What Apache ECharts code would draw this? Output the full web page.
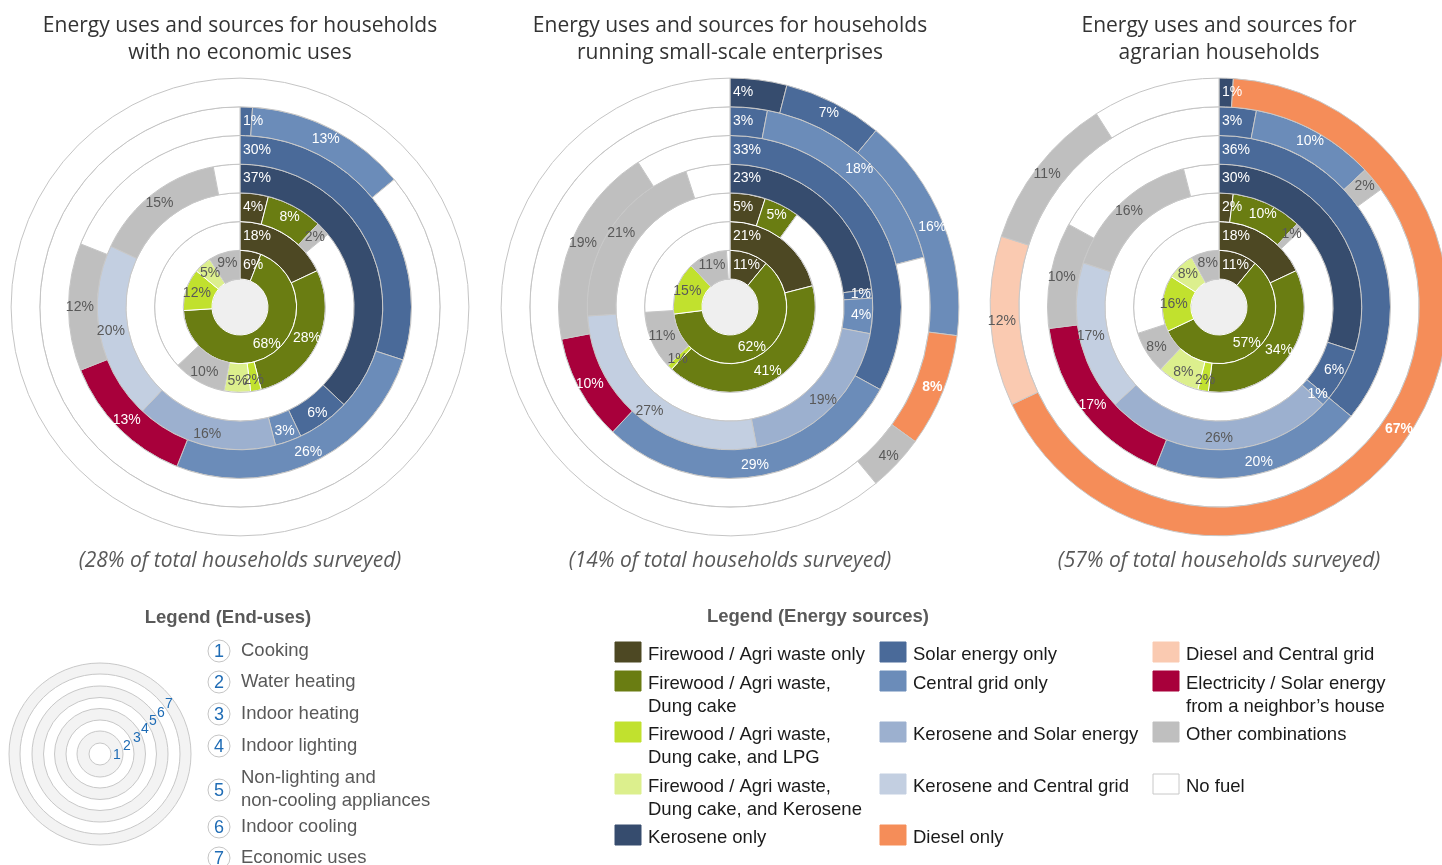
<!DOCTYPE html>
<html>
  <head>
    <meta charset="UTF-8" />
    <title>Energy uses and sources</title>
    <script src="https://cdn.jsdelivr.net/npm/echarts@6/dist/echarts.min.js"></script>
    <style>
      html, body { margin: 0; padding: 0; background: #fff; }
    </style>
  </head>
  <body>
    <div id="main" style="width: 1442px; height: 865px"></div>
  </body>
  <script>
// energy source keys and their legend text
const sourceKeys = ['FW', 'FD', 'FL', 'FK', 'KO', 'SO', 'CG', 'KS', 'KC', 'DO', 'DC', 'EN', 'OT', 'NF'];
const sourceNames = [
  'Firewood / Agri waste only',
  'Firewood / Agri waste,\nDung cake',
  'Firewood / Agri waste,\nDung cake, and LPG',
  'Firewood / Agri waste,\nDung cake, and Kerosene',
  'Kerosene only',
  'Solar energy only',
  'Central grid only',
  'Kerosene and Solar energy',
  'Kerosene and Central grid',
  'Diesel only',
  'Diesel and Central grid',
  'Electricity / Solar energy\nfrom a neighbor\u2019s house',
  'Other combinations',
  'No fuel'
];

const endUses = ['Cooking', 'Water heating', 'Indoor heating', 'Indoor lighting',
  'Non-lighting and\nnon-cooling appliances', 'Indoor cooling', 'Economic uses'];

const chartTitles = [
  'Energy uses and sources for households\nwith no economic uses',
  'Energy uses and sources for households\nrunning small-scale enterprises',
  'Energy uses and sources for\nagrarian households'
];
const chartShares = ['28%', '14%', '57%'];

// rings, innermost (cooking) to outermost (economic uses), clockwise from 12 o'clock
const noEconomic = [
  [['FW', 6], ['FD', 68], ['FL', 12], ['FK', 5], ['OT', 9]],
  [['FW', 18], ['FD', 28], ['FL', 2], ['FK', 5], ['OT', 10], ['NF', 37]],
  [['FW', 4], ['FD', 8], ['OT', 2], ['NF', 86]],
  [['KO', 37], ['SO', 6], ['CG', 3], ['KS', 16], ['KC', 20], ['OT', 15], ['NF', 3]],
  [['SO', 30], ['CG', 26], ['EN', 13], ['OT', 12], ['NF', 19]],
  [['SO', 1], ['CG', 13], ['NF', 86]],
  [['NF', 100]]
];
const smallScale = [
  [['FW', 11], ['FD', 62], ['FL', 15], ['OT', 11], ['NF', 1]],
  [['FW', 21], ['FD', 41], ['FL', 1], ['OT', 11], ['NF', 26]],
  [['FW', 5], ['FD', 5], ['NF', 90]],
  [['KO', 23], ['SO', 1], ['CG', 4], ['KS', 19], ['KC', 27], ['OT', 21], ['NF', 5]],
  [['SO', 33], ['CG', 29], ['EN', 10], ['OT', 19], ['NF', 9]],
  [['SO', 3], ['CG', 18], ['NF', 79]],
  [['KO', 4], ['SO', 7], ['CG', 16], ['DO', 8], ['OT', 4], ['NF', 61]]
];
const agrarian = [
  [['FW', 11], ['FD', 57], ['FL', 16], ['FK', 8], ['OT', 8]],
  [['FW', 18], ['FD', 34], ['FL', 2], ['FK', 8], ['OT', 8], ['NF', 30]],
  [['FW', 2], ['FD', 10], ['OT', 1], ['NF', 87]],
  [['KO', 30], ['SO', 6], ['CG', 1], ['KS', 26], ['KC', 17], ['OT', 16], ['NF', 4]],
  [['SO', 36], ['CG', 20], ['EN', 17], ['OT', 10], ['NF', 17]],
  [['SO', 3], ['CG', 10], ['OT', 2], ['NF', 85]],
  [['KO', 1], ['DO', 67], ['DC', 12], ['OT', 11], ['NF', 9]]
];

// styles
const GREY_TXT = '#595959';
const style = {
  FW: { color: '#4d4823', border: '#ffffff', label: '#fff' },
  FD: { color: '#6a7d12', border: '#ffffff', label: '#fff' },
  FL: { color: '#c1e12e', border: '#ffffff', label: GREY_TXT },
  FK: { color: '#dcef8d', border: '#ffffff', label: GREY_TXT },
  KO: { color: '#364c6e', border: '#c8c8c8', label: '#fff' },
  SO: { color: '#4a6a99', border: '#c8c8c8', label: '#fff' },
  CG: { color: '#6b8cb9', border: '#c8c8c8', label: '#fff' },
  KS: { color: '#9cb0cf', border: '#c8c8c8', label: GREY_TXT },
  KC: { color: '#c3cfe1', border: '#c8c8c8', label: GREY_TXT },
  DO: { color: '#f58d59', border: '#c8c8c8', label: '#fff', bold: true },
  DC: { color: '#facab1', border: '#c8c8c8', label: GREY_TXT },
  EN: { color: '#a8003b', border: '#c8c8c8', label: '#fff' },
  OT: { color: '#bfbfbf', border: '#c8c8c8', label: GREY_TXT },
  NF: { color: '#ffffff', border: '#c4c4c4', label: null }
};

const LABEL_FONT = '"Liberation Sans", Arial, sans-serif';
const R0 = 28, RW = 28.7;
const centers = [[240, 307], [730, 307], [1219, 307]];
const charts = [noEconomic, smallScale, agrarian];

let myChart = echarts.init(document.getElementById('main'));

let series = [];
charts.forEach((rings, ci) => {
  const cx = centers[ci][0], cy = centers[ci][1];
  // grey hub
  series.push({
    type: 'pie', center: [cx, cy], radius: [0, R0], silent: true, animation: false,
    label: { show: false }, labelLine: { show: false },
    itemStyle: { color: '#efefef', borderColor: '#bdbdbd', borderWidth: 1 },
    data: [{ name: 'hub', value: 1 }]
  });
  rings.forEach((ring, ri) => {
    const rIn = R0 + ri * RW, rOut = rIn + RW;
    series.push({
      type: 'pie',
      center: [cx, cy],
      radius: [rIn, rOut],
      startAngle: 90,
      clockwise: true,
      silent: true,
      animation: false,
      avoidLabelOverlap: false,
      label: {
        show: true, position: 'inside',
        formatter: p => p.value + '%',
        fontFamily: LABEL_FONT, fontSize: 14
      },
      labelLine: { show: false },
      // first slice of each ring: label sits just right of the 12 o'clock line
      labelLayout: p => {
        if (p.dataIndex !== 0) return {};
        return { x: cx + 3, y: cy - (rIn + rOut) / 2, align: 'left', verticalAlign: 'middle' };
      },
      data: ring.map(([k, v]) => {
        const s = style[k];
        return {
          name: k, value: v,
          itemStyle: { color: s.color, borderColor: s.border, borderWidth: 1 },
          label: s.label ? { show: true, color: s.label, fontWeight: s.bold ? 'bold' : 'normal' } : { show: false }
        };
      })
    });
  });
});

// titles
let titles = [];
centers.forEach((c, i) => {
  titles.push({
    text: chartTitles[i], left: c[0], top: 13, padding: 0, textAlign: 'center',
    textStyle: { fontFamily: '"Open Sans", sans-serif', fontSize: 21, fontWeight: 'normal', color: '#333', lineHeight: 27 }
  });
  titles.push({
    text: '(' + chartShares[i] + ' of total households surveyed)', left: c[0], top: 551, padding: 0, textAlign: 'center',
    textStyle: { fontFamily: '"Open Sans", sans-serif', fontSize: 21, fontStyle: 'italic', fontWeight: 'normal', color: '#595959' }
  });
});

// legends built with graphic elements
const LEG_FONT = '18.5px "Liberation Sans", Arial, sans-serif';
let graphics = [];
graphics.push({ type: 'text', x: 228, y: 618, style: { text: 'Legend (End-uses)', font: 'bold ' + LEG_FONT, fill: GREY_TXT, align: 'center', verticalAlign: 'middle' } });
graphics.push({ type: 'text', x: 818, y: 617, style: { text: 'Legend (Energy sources)', font: 'bold ' + LEG_FONT, fill: GREY_TXT, align: 'center', verticalAlign: 'middle' } });

// end-use ring diagram
const diagRadii = [91, 80, 68, 56.5, 45.5, 34, 23, 11];
diagRadii.forEach((r, i) => {
  graphics.push({ type: 'circle', shape: { cx: 100, cy: 754, r: r },
    style: { fill: i % 2 === 0 && i < 7 ? '#f3f3f3' : '#ffffff', stroke: '#c8c8c8', lineWidth: 1 } });
});
const diagNums = [[117, 755], [127, 746], [137, 738], [145, 729], [153, 721], [161, 713], [169, 704]];
diagNums.forEach((p, i) => {
  graphics.push({ type: 'text', x: p[0], y: p[1], style: { text: String(i + 1), font: '14px "Liberation Sans", Arial', fill: '#1f6cb5', align: 'center', verticalAlign: 'middle' } });
});

// end-use list
const endUseRows = [651, 682, 714, 746, 790, 827, 858];
endUses.forEach((u, i) => {
  const y = endUseRows[i];
  graphics.push({ type: 'circle', shape: { cx: 219, cy: y, r: 11 }, style: { fill: '#fff', stroke: '#c4c4c4', lineWidth: 1 } });
  graphics.push({ type: 'text', x: 219, y: y + 1, style: { text: String(i + 1), font: '18px "Liberation Sans", Arial', fill: '#1f6cb5', align: 'center', verticalAlign: 'middle' } });
  const multi = u.indexOf('\n') >= 0;
  graphics.push({ type: 'text', x: 241, y: multi ? y - 23.5 : y - 11.5,
    style: { text: u, font: LEG_FONT, fill: GREY_TXT, align: 'left', verticalAlign: 'top', lineHeight: 23 } });
});

// energy source legend: three columns
const legendCols = [
  { x: 615, keys: ['FW', 'FD', 'FL', 'FK', 'KO'] },
  { x: 880, keys: ['SO', 'CG', 'KS', 'KC', 'DO'] },
  { x: 1153, keys: ['DC', 'EN', 'OT', 'NF'] }
];
const legendRowTops = [642, 671, 722, 774, 825];
legendCols.forEach(col => {
  col.keys.forEach((k, j) => {
    const top = legendRowTops[j];
    const s = style[k];
    graphics.push({ type: 'rect', shape: { x: col.x, y: top, width: 26, height: 20 },
      style: { fill: s.color, stroke: k === 'NF' ? '#c8c8c8' : s.color, lineWidth: 1 } });
    graphics.push({ type: 'text', x: col.x + 33, y: top + 1,
      style: { text: sourceNames[sourceKeys.indexOf(k)], font: LEG_FONT, fill: '#1a1a1a', align: 'left', verticalAlign: 'top', lineHeight: 23 } });
  });
});

myChart.setOption({
  animation: false,
  title: titles,
  series: series,
  graphic: { elements: graphics }
});
  </script>
</html>
